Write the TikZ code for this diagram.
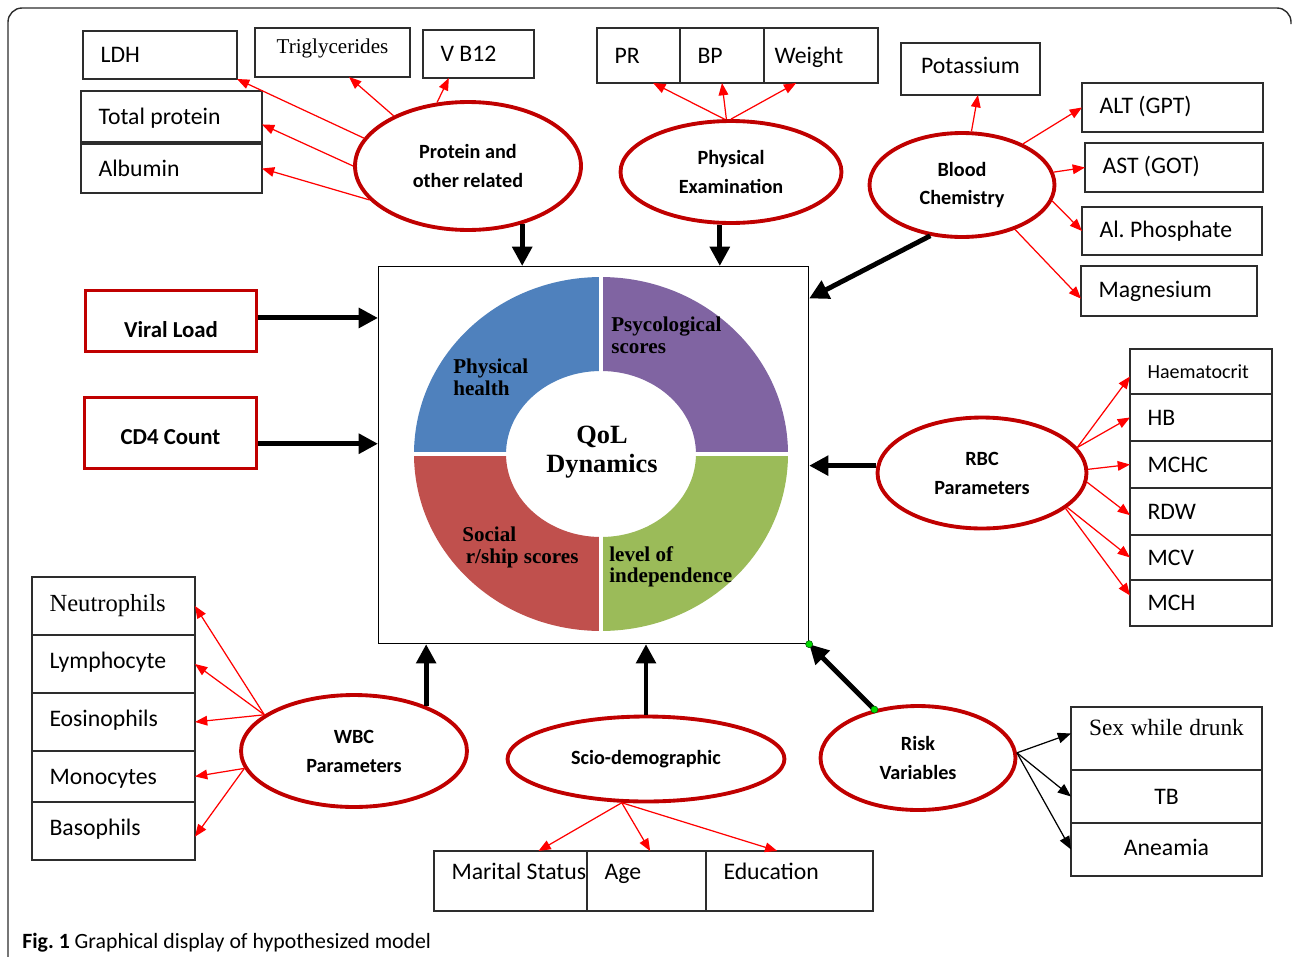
\documentclass[tikz,border=0pt]{standalone}
\usepackage{fontspec}
\setmainfont{Carlito}
\newfontfamily\serifface{Liberation Serif}
\usepackage{tikz}
\usetikzlibrary{shapes,arrows.meta,positioning}

\definecolor{ovalred}{RGB}{192,0,0}
\definecolor{linkred}{RGB}{255,0,0}
\definecolor{boxgray}{RGB}{45,45,45}
\definecolor{qblue}{RGB}{79,129,189}
\definecolor{qpurple}{RGB}{128,100,162}
\definecolor{qred}{RGB}{192,80,77}
\definecolor{qgreen}{RGB}{155,187,89}

\begin{document}
\frenchspacing
\begin{tikzpicture}[x=0.02cm, y=-0.02cm]

	\tikzset{
	plainspace/.style={execute at begin node={\spaceskip=0pt\xspaceskip=0pt}},
	cellbox/.style={draw=boxgray, line width=0.8pt, anchor=north west, outer sep=0pt, inner xsep=10pt, inner ysep=0pt, minimum width=#1, text width=#1-20pt, align=left, plainspace, font=\fontsize{13.5}{16}\selectfont, text height=9pt, text depth=0pt},
	oval/.style={ellipse, draw=ovalred, line width=2.2pt, inner sep=0pt, align=center, plainspace, font=\bfseries\fontsize{11.5}{16.5}\selectfont},
	keybox/.style={draw=ovalred, line width=1.7pt, anchor=north west, inner sep=0pt, font=\bfseries\fontsize{13}{15}\selectfont},
	redlink/.style={draw=linkred, line width=0.7pt, -{Triangle[length=7pt,width=5.5pt]}},
	blacklink/.style={line width=0.7pt, -{Triangle[length=7.5pt,width=6pt]}},
	bigarrow/.style={line width=2.8pt, -{Triangle[length=11pt,width=11pt]}},
	ringtext/.style={anchor=north west, inner sep=0pt, align=left, plainspace, font=\serifface\bfseries\fontsize{12}{12}\selectfont}
	}

	\useasboundingbox (0,0) rectangle (1292,957);

	% Frame and caption
	\draw[boxgray, line width=0.8pt, rounded corners=8pt] (8,960) -- (8,8) -- (1291,8) -- (1291,24);
	\node[anchor=base west, inner sep=0pt, font=\fontsize{12.4}{14}\selectfont] (caption) at (22,948) {\textbf{Fig. 1} Graphical display of hypothesized model};

	% Central box with the QoL ring
	\node[draw, line width=0.7pt, anchor=north west, minimum width=8.6cm, minimum height=7.54cm, inner sep=0pt] (qolbox) at (378,266) {};
	\fill[qblue] (414,454) arc[start angle=180, end angle=90, x radius=3.74cm, y radius=3.54cm] -- (601,371) arc[start angle=90, end angle=180, x radius=1.9cm, y radius=1.66cm] -- cycle;
	\fill[qpurple] (788,454) arc[start angle=0, end angle=90, x radius=3.74cm, y radius=3.54cm] -- (601,371) arc[start angle=90, end angle=0, x radius=1.9cm, y radius=1.66cm] -- cycle;
	\fill[qred] (414,454) arc[start angle=180, end angle=270, x radius=3.74cm, y radius=3.54cm] -- (601,537) arc[start angle=270, end angle=180, x radius=1.9cm, y radius=1.66cm] -- cycle;
	\fill[qgreen] (788,454) arc[start angle=0, end angle=-90, x radius=3.74cm, y radius=3.54cm] -- (601,537) arc[start angle=-90, end angle=0, x radius=1.9cm, y radius=1.66cm] -- cycle;
	\draw[white, line width=1.8pt] (412,454) -- (790,454) (601,275) -- (601,633);

	\node[ringtext] (physh) at (453,359) {Physical\\health};
	\node[ringtext] (psyc) at (611,317) {Psycological\\scores};
	\node[ringtext] (soc) at (462,527) {Social\\\hspace*{2pt}r/ship scores};
	\node[ringtext] (indep) at (609,546) {level of\\independence};
	\node[anchor=north, inner sep=0pt, align=center, font=\serifface\bfseries\fontsize{15}{16.2}\selectfont] (qol) at (602,426) {QoL\\Dynamics};

	% Ovals
	\node[oval, minimum width=4.52cm, minimum height=2.56cm] (prot) at (468,166) {Protein and\\other related};
	\node[oval, minimum width=4.42cm, minimum height=2.04cm] (phys) at (731,172) {Physical\\Examination};
	\node[oval, minimum width=3.7cm, minimum height=2.08cm] (blood) at (962,185) {Blood\\Chemistry};
	\node[oval, minimum width=4.18cm, minimum height=2.22cm] (rbc) at (982,473) {RBC\\Parameters};
	\node[oval, minimum width=3.9cm, minimum height=2.08cm] (risk) at (918,758) {Risk\\Variables};
	\node[oval, minimum width=4.52cm, minimum height=2.24cm] (wbc) at (354,751) {WBC\\Parameters};
	\node[oval, minimum width=5.54cm, minimum height=1.7cm] (scio) at (646,759) {Scio-demographic};

	% Protein boxes
	\node[cellbox=3.08cm, minimum height=0.96cm] (ldh) at (83,31) {LDH};
	\node[cellbox=3.1cm, minimum height=0.98cm, align=center, font=\serifface\fontsize{12}{14}\selectfont, text height=8pt, text depth=6.8pt] (trig) at (255,28) {Triglycerides};
	\node[cellbox=2.22cm, minimum height=0.96cm] (vb12) at (423,30) {V B12};
	\node[cellbox=3.62cm, minimum height=1.02cm] (totprot) at (81,91) {Total protein};
	\node[cellbox=3.62cm, minimum height=0.98cm] (albumin) at (81,144) {Albumin};

	% Physical examination boxes
	\node[cellbox=1.66cm, minimum height=1.1cm] (pr) at (597,28) {PR};
	\node[cellbox=1.68cm, minimum height=1.1cm, right=0pt of pr] (bp) {BP};
	\node[cellbox=2.28cm, minimum height=1.1cm, right=0pt of bp, inner xsep=6pt, text width=2.28cm-12pt] (weight) {Weight};

	% Blood chemistry boxes
	\node[cellbox=2.78cm, minimum height=1.04cm, align=center, text depth=3.8pt] (pot) at (901,43) {Potassium};
	\node[cellbox=3.62cm, minimum height=0.98cm, text depth=2pt] (alt) at (1082,83) {ALT (GPT)};
	\node[cellbox=3.56cm, minimum height=0.98cm, text depth=2pt] (ast) at (1085,143) {AST (GOT)};
	\node[cellbox=3.6cm, minimum height=0.96cm, text depth=2pt] (alp) at (1082,207) {Al. Phosphate};
	\node[cellbox=3.52cm, minimum height=1.0cm, text depth=2pt] (mag) at (1081,266) {Magnesium};

	% RBC boxes
	\node[cellbox=2.84cm, minimum height=0.9cm, font=\fontsize{11.4}{14}\selectfont, text height=7.4pt] (hct) at (1130,349) {Haematocrit};
	\node[cellbox=2.84cm, minimum height=0.94cm, below=0pt of hct] (hb) {HB};
	\node[cellbox=2.84cm, minimum height=0.94cm, below=0pt of hb] (mchc) {MCHC};
	\node[cellbox=2.84cm, minimum height=0.94cm, below=0pt of mchc] (rdw) {RDW};
	\node[cellbox=2.84cm, minimum height=0.9cm, below=0pt of rdw] (mcv) {MCV};
	\node[cellbox=2.84cm, minimum height=0.92cm, below=0pt of mcv] (mch) {MCH};

	% Risk boxes
	\node[cellbox=3.82cm, minimum height=1.26cm, align=center, inner xsep=3pt, text width=3.82cm-6pt, font=\serifface\fontsize{13.3}{15}\selectfont, text height=8.8pt, text depth=12pt] (sex) at (1071,707) {Sex while drunk};
	\node[cellbox=3.82cm, minimum height=1.06cm, align=center, below=0pt of sex] (tb) {TB};
	\node[cellbox=3.82cm, minimum height=1.06cm, align=center, below=0pt of tb, text depth=2pt] (anm) {Aneamia};

	% WBC boxes
	\node[cellbox=3.26cm, minimum height=1.16cm, font=\serifface\fontsize{14}{16}\selectfont, text height=9.3pt, text depth=3.4pt] (neu) at (32,577) {Neutrophils};
	\node[cellbox=3.26cm, minimum height=1.16cm, below=0pt of neu, text depth=3.4pt] (lym) {Lymphocyte};
	\node[cellbox=3.26cm, minimum height=1.16cm, below=0pt of lym, text depth=3.4pt] (eos) {Eosinophils};
	\node[cellbox=3.26cm, minimum height=1.02cm, below=0pt of eos] (mono) {Monocytes};
	\node[cellbox=3.26cm, minimum height=1.16cm, below=0pt of mono, text depth=4pt] (baso) {Basophils};

	% Socio-demographic boxes
	\node[cellbox=3.06cm, minimum height=1.2cm, text depth=10.2pt] (mar) at (434,851) {\leavevmode\rlap{Marital Status}};
	\node[cellbox=2.38cm, minimum height=1.2cm, right=0pt of mar, text depth=10.2pt] (age) {Age};
	\node[cellbox=3.34cm, minimum height=1.2cm, right=0pt of age, text depth=10.2pt] (edu) {Education};

	% Key boxes
	\node[keybox, minimum width=3.42cm, minimum height=1.22cm, text height=19.2pt, text depth=0pt] (viral) at (84,289) {Viral Load};
	\node[keybox, minimum width=3.44cm, minimum height=1.42cm, text height=13pt, text depth=0pt] (cd4) at (83,396) {CD4 Count};

	% Lines
	\draw[redlink] (prot.165) -- (ldh.south east);
	\draw[redlink] (prot.146) -- (trig.-56);
	\draw[redlink] (prot.116) -- (vb12.-141);
	\draw[redlink] (prot.180) -- (totprot.-5);
	\draw[redlink] (prot.199) -- (albumin.east);
	\draw[bigarrow] (prot.-47) -- (prot.-47|-qolbox.north);

	\draw[redlink] (phys.97) -- (pr.-62);
	\draw[redlink] (phys.95) -- (bp.south);
	\draw[redlink] (phys.90) -- (weight.-132);
	\draw[bigarrow] (phys.-102) -- (phys.-102|-qolbox.north);

	\draw[redlink] (blood.80) -- (pot.-74);
	\draw[redlink] (blood.34) -- (alt.west);
	\draw[redlink] (blood.8) -- (ast.west);
	\draw[redlink] (blood.-10) -- (alp.west);
	\draw[redlink] (blood.-40) -- (mag.185);
	\draw[bigarrow] (blood.238) -- (qolbox.36);

	\draw[bigarrow] (rbc.176) -- (rbc.176-|qolbox.east);
	\draw[redlink] (rbc.15) -- (hct.184);
	\draw[redlink] (rbc.15) -- (hb.west);
	\draw[redlink] (rbc.2) -- (mchc.west);
	\draw[redlink] (rbc.-5) -- (rdw.183);
	\draw[redlink] (rbc.-22) -- (mcv.west);
	\draw[redlink] (rbc.-23) -- (mch.174);

	\draw[bigarrow] (risk.132) -- (qolbox.south east);
	\filldraw[fill=green!85!black, draw=green!35!black, line width=0.3pt] (risk.132) circle[radius=2pt] (qolbox.south east) circle[radius=2pt];
	\draw[blacklink] (risk.3) -- (sex.177);
	\draw[blacklink] (risk.3) -- (tb.west);
	\draw[blacklink] (risk.3) -- (anm.west);

	\draw[bigarrow] (wbc.32) -- (wbc.32|-qolbox.south);
	\draw[redlink] (wbc.158) -- (neu.east);
	\draw[redlink] (wbc.158) -- (lym.east);
	\draw[redlink] (wbc.158) -- (eos.east);
	\draw[redlink] (wbc.189) -- (mono.east);
	\draw[redlink] (wbc.189) -- (baso.-4);

	\draw[bigarrow] (scio.north) -- (scio.north|-qolbox.south);
	\draw[redlink] (scio.241) -- (mar.47);
	\draw[redlink] (scio.241) -- (age.83);
	\draw[redlink] (scio.241) -- (edu.112);

	\draw[bigarrow] (viral.2) -- (viral.2-|qolbox.west);
	\draw[bigarrow] (cd4.-7) -- (cd4.-7-|qolbox.west);

\end{tikzpicture}
\end{document}
